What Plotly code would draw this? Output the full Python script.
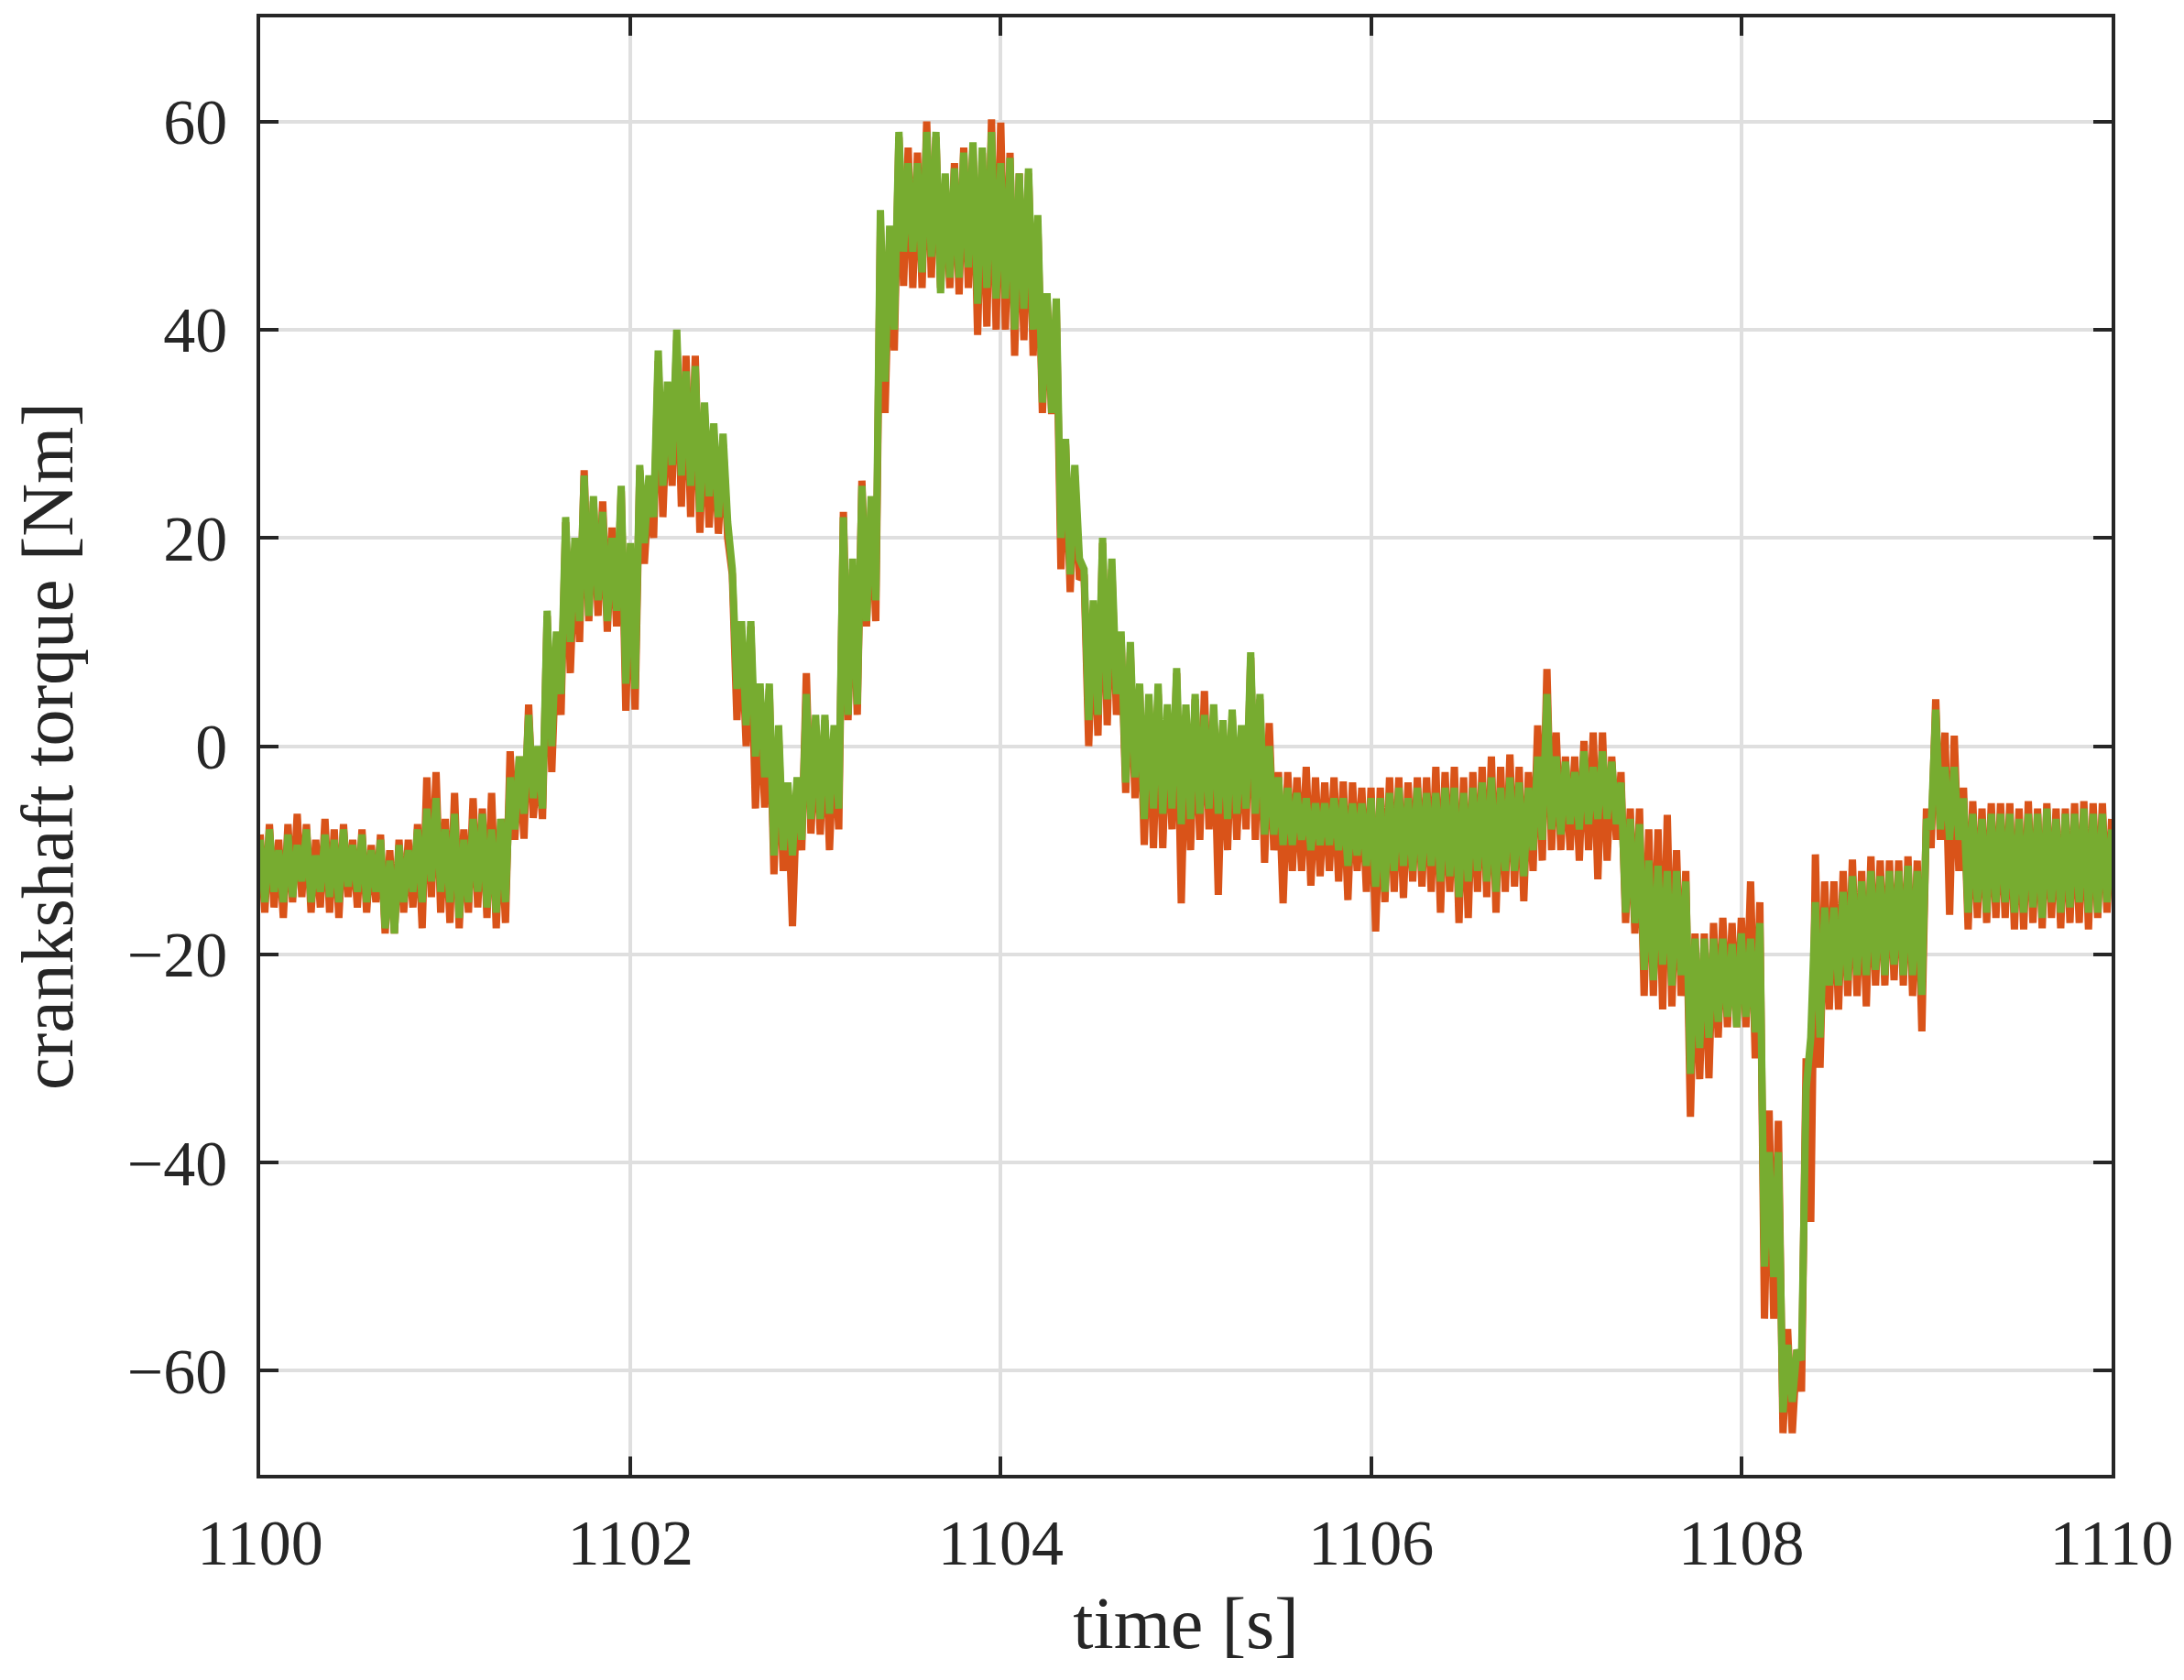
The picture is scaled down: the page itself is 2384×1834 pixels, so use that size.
import numpy as np
import plotly.graph_objects as go

# The signal is very noisy: it is kept as an upper and a lower envelope,
# read off the picture every 0.05 s; the samples alternate between them
# (upper at t, lower at t + 0.025 s).
t_upper = np.round(np.arange(0, 201) * 0.05 + 1100.0, 3)
t_lower = np.round(np.arange(0, 200) * 0.05 + 1100.025, 3)

green_upper = [
    -9, -8, -10, -8.5, -9.5, -8, -10.5, -8.5, -9, -8,
    -9.5, -8.5, -10, -9, -11, -9.5, -10, -8, -6, -5,
    -8, -6.5, -9, -7, -6.5, -8, -7, -3, -1, 3,
    0, 13, 11, 22, 20, 26, 24, 22.5, 20, 25,
    19.5, 27, 26, 38, 35, 40, 36, 36.5, 33, 31,
    30, 17, 12, 12, 6, 6, 2, -3.5, -3, 5,
    3, 3, 2, 22, 18, 25, 24, 51.5, 50, 59,
    56, 56, 59, 59, 55, 55.5, 57, 58, 57.5, 59,
    56, 56.5, 55, 55.5, 51, 43.5, 43, 29.5, 27, 17,
    14, 20, 18, 11, 10, 6, 5, 6, 4, 7.5,
    4, 5, 3, 4, 2.5, 3.5, 2, 9, 5, 0,
    -3, -4, -4.5, -5, -5.5, -5.5, -5, -5, -5.5, -5.5,
    -5, -5, -4.5, -4, -5, -4, -4.5, -4.5, -4, -4,
    -4.5, -4, -3.5, -3, -4, -3, -3.5, -4, -1, 5,
    -1, -1.5, -2.5, -0.5, -2, -0.5, -1.5, -3.5, -7, -7.5,
    -11, -11.5, -12, -12, -13, -18.5, -18.5, -18.5, -18.5, -19,
    -18, -18.5, -17, -39, -39, -57.5, -58, -33, -15, -15.5,
    -15.5, -14, -12.5, -13, -12, -12.5, -12, -12, -11.5, -12,
    -7, 3.5, -2, -2, -5, -6.5, -7, -6.5, -6.5, -6.5,
    -7, -6.5, -6.5, -6, -7, -6.5, -6.5, -6, -6.5, -6.5,
    -8,
]
green_lower = [
    -15, -14, -15, -14.5, -13, -15, -14, -14.5, -15, -13.5,
    -14, -15, -14, -17.5, -18, -15, -14, -15, -13, -14,
    -15, -16.5, -15, -14, -15.5, -16, -15, -8, -6.5, -5,
    -6, 0, 5, 10, 12, 12.5, 14, 12, 13, 6,
    5.5, 19.5, 22, 25, 27, 26, 25, 22.5, 24, 22,
    21.5, 5.5, 2, -1, -3, -10.5, -10, -10.5, -9, -7,
    -7, -6.5, -6, 3, 4, 12, 14, 35, 40, 47.5,
    47.5, 45.5, 47, 43.5, 45, 45, 46, 42.5, 44, 43,
    43, 40, 42, 40, 33, 32, 20, 16.5, 18, 2.5,
    3, 4.5, 5, -3.5, -3, -7, -6, -6.5, -6, -7.5,
    -7, -6.5, -6, -6.5, -7, -6.5, -6, -6.5, -8.5, -8.5,
    -9.5, -9.5, -9, -10, -9.5, -9.5, -10, -11.5, -10.5, -11.5,
    -13.5, -14, -12, -11.5, -12, -12, -11.5, -13, -12.5, -14.5,
    -13, -12, -13, -14, -12, -12, -12.5, -10, -9, -8,
    -8.5, -7.5, -8, -7.5, -7, -7, -7.5, -16, -17, -21.5,
    -22.5, -21, -23, -22, -31.5, -29, -28, -26.5, -26, -27,
    -26, -27.5, -50, -51, -64, -63, -59, -28, -28, -23,
    -23, -22.5, -22, -22, -21.5, -22, -21, -22, -22, -23.9,
    -8, -8, -9, -9, -16, -15, -16, -15, -15, -16,
    -16, -15.5, -16.5, -15, -16, -15.5, -15, -16, -16, -15,
]

orange_upper = [
    -8.5, -7.5, -9, -7.5, -6.5, -7.5, -9, -7, -8, -7.5,
    -9, -8, -9.5, -8.5, -10, -9, -9, -7.5, -3, -2.5,
    -7, -4.5, -8, -5, -6, -4.5, -7, -0.5, -1, 4,
    -1, 12.5, 10, 21.5, 19, 26.5, 23.5, 23.5, 21, 24.5,
    18, 26.5, 25, 37, 34, 39, 37.5, 37.5, 32, 30,
    29, 16.5, 11, 11.5, 5, 5.5, 1, -4, -4, 7,
    2, 2.5, 1, 22.5, 17, 25.5, 23, 50, 49, 58.5,
    57.5, 57, 60, 58.5, 54, 56, 57.5, 57.5, 57, 60.2,
    59.9, 57, 55, 55, 50, 43, 42, 29, 26, 16.5,
    13, 19.5, 17, 10.5, 9, 5.5, 4, 5, 3, 7,
    3, 4.5, 5.3, 3, 2, 3, 1.5, 8.5, 4.5, 2.2,
    -2.5, -2.5, -3, -2, -3, -3.5, -3, -3.4, -3.5, -4,
    -4, -4, -3, -3, -3.5, -3, -3, -2, -2.5, -2,
    -3, -2.5, -2, -1, -2, -0.8, -2, -2.5, 2, 7.4,
    1.3, -1, -1, 0.5, 1.3, 1.3, -1, -2.5, -6, -6,
    -8, -8, -6.6, -10, -12, -18, -18, -17, -16.5, -17,
    -16.5, -13, -15, -35, -36, -56, -58, -30, -10.4, -13,
    -13, -12, -10.9, -12, -10.6, -11, -11, -11, -10.6, -11,
    -6, 4.5, 1.3, 1, -4, -5.3, -6, -5.5, -5.5, -5.5,
    -6, -5.3, -6, -5.5, -6, -6, -5.5, -5.3, -5.5, -5.5,
    -7,
]
orange_lower = [
    -16, -15.5, -16.5, -15, -14.5, -16, -15.5, -16, -16.5, -14.5,
    -15.5, -16, -15, -18, -18, -16, -15.5, -17.5, -14.5, -16,
    -17, -17.5, -16, -15.5, -16.5, -17.5, -17, -9, -8.9, -6.9,
    -7, -2.5, 3, 7, 10, 12, 12.5, 11, 11.5, 3.4,
    3.5, 17.5, 20, 22, 25, 23, 22, 20.5, 21, 20.4,
    20, 2.5, 0, -6, -5.9, -12.3, -12, -17.3, -10, -8.4,
    -8.5, -10, -8, 2.5, 3, 11.5, 12, 32, 38, 44.2,
    44, 44, 45, 44, 44, 43.4, 44, 39.5, 40.3, 40,
    40, 37.5, 39, 37.5, 32, 31.9, 17, 14.8, 16, 0,
    1, 2, 3, -4.5, -5, -9.5, -9.8, -9.8, -8, -15.1,
    -10, -9, -8, -14.3, -10, -9, -8, -9, -11.2, -10,
    -15.1, -12, -12, -13.4, -12.5, -12, -13, -14.8, -12, -14,
    -17.8, -15, -14, -14.6, -13, -13.5, -14, -16, -14, -17,
    -16.5, -14, -14.5, -16, -14, -13.5, -14.9, -12, -11, -10,
    -10, -10, -11, -10, -12.8, -11, -9, -17, -18, -24,
    -24, -25.3, -25, -24, -35.6, -32, -31.9, -28, -27, -27,
    -27, -30, -55, -55, -66, -66, -62, -45.7, -30.9, -25.3,
    -25.3, -24, -24, -25, -23, -23, -22.5, -23, -24, -27.4,
    -9.8, -9, -16.2, -12, -17.6, -16.5, -17, -16.5, -16.5, -17.6,
    -17.6, -17, -17.5, -16.5, -17.5, -17, -17, -17.6, -16.5, -16,
]

x_ticks = [1100, 1102, 1104, 1106, 1108, 1110]
y_ticks = [-60, -40, -20, 0, 20, 40, 60]


def weave(upper, lower):
    t = np.empty(len(upper) + len(lower))
    y = np.empty_like(t)
    t[0::2], t[1::2] = t_upper, t_lower
    y[0::2], y[1::2] = upper, lower
    return t, y


FONT = "Liberation Serif"
INK = "#262626"

fig = go.Figure()
for up, lo, color in [(orange_upper, orange_lower, "#D95319"),
                      (green_upper, green_lower, "#77AC30")]:
    t, y = weave(up, lo)
    fig.add_trace(go.Scatter(x=t, y=y, mode="lines",
                             line=dict(color=color, width=8), showlegend=False))

axis_common = dict(
    showline=True, linecolor=INK, linewidth=3.5, mirror="ticks",
    ticks="inside", ticklen=20, tickwidth=3.5, tickcolor=INK,
    showgrid=True, gridcolor="#dfdfdf", gridwidth=3.5, zeroline=False,
    tickfont=dict(family=FONT, size=70, color=INK),
)

fig.update_xaxes(range=[1100, 1110], tickvals=x_ticks,
                 title=dict(text="time [s]", font=dict(family=FONT, size=80, color=INK), standoff=22),
                 ticklabelstandoff=10, **axis_common)
fig.update_yaxes(range=[-70, 70], tickvals=y_ticks,
                 title=dict(text="crankshaft torque [Nm]", font=dict(family=FONT, size=80, color=INK), standoff=40),
                 ticklabelstandoff=18, **axis_common)

fig.update_layout(
    width=2384, height=1834,
    margin=dict(l=276, r=87, t=7, b=232),
    plot_bgcolor="white", paper_bgcolor="white",
    font=dict(family=FONT, color=INK),
)

fig.write_html("out.html")
